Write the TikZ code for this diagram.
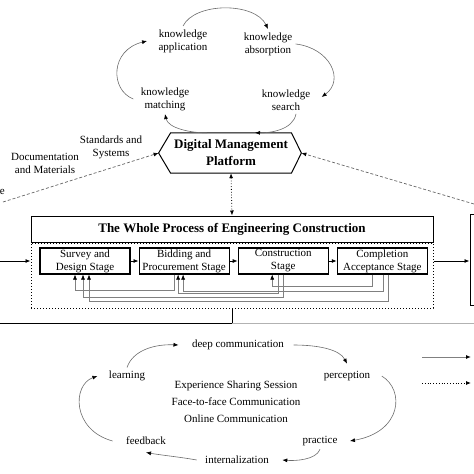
\documentclass[tikz,border=0pt]{standalone}
\usepackage{fontspec}
\setmainfont{Liberation Serif}
\usetikzlibrary{positioning}
\usetikzlibrary{arrows.meta}

\begin{document}
\begin{tikzpicture}[x=1pt,y=-1pt,>={Latex[length=5pt,width=4pt,color=black]},
    font=\fontsize{11}{13}\selectfont,node distance=8pt,
    cyc/.style={draw=gray!85!black,line width=0.6pt,->},
    fb/.style={draw=gray,line width=0.6pt,->},
    stage/.style={draw,line width=1.1pt,minimum width=90pt,minimum height=26pt,inner sep=1pt,align=center},
    heading/.style={font=\fontsize{13}{17}\selectfont\bfseries,align=center},
    dashline/.style={draw=gray!80!black,line width=0.7pt,dash pattern=on 3pt off 2pt,->}]
  \useasboundingbox (0,0) rectangle (474,474);

  % knowledge cycle
  \node (apply)  at (183,41)  [align=center] {knowledge\\application};
  \node (absorb) at (268,44)  [align=center] {knowledge\\absorption};
  \node (match)  at (165,99)  [align=center] {knowledge\\matching};
  \node (search) at (286,100) [align=center] {knowledge\\search};

  % platform
  \node (plat) at (231,153) [heading,minimum width=120pt,minimum height=40pt] {Digital Management\\Platform};
  \coordinate (platL) at ([xshift=-12pt]plat.west);
  \coordinate (platR) at ([xshift=10pt]plat.east);
  \draw[line width=1pt] (plat.north west) -- (plat.north east) -- (platR)
    -- (plat.south east) -- (plat.south west) -- (platL) -- cycle;

  \draw[cyc] (apply.north) .. controls (195,2) and (255,2) .. (absorb.north);
  \draw[cyc] (absorb.east) .. controls (330,48) and (345,80) .. ([xshift=8pt,yshift=3pt]search.east);
  \draw[cyc] ([xshift=10pt]search.south) .. controls (293,130) and (270,133) .. ([xshift=24pt]plat.north);
  \draw[cyc] ([xshift=-24pt]plat.north) .. controls (190,133) and (168,128) .. (match.south);
  \draw[cyc] ([xshift=-4pt]match.west) .. controls (110,90) and (110,50) .. ([xshift=-8pt]apply.west);

  % inputs to the platform
  \node (std) at (111,147) [align=center] {Standards and\\Systems};
  \node (doc) at (45,163)  [align=center] {Documentation\\and Materials};
  \node (cut) at (5,192) [anchor=east,inner sep=0pt] {e};
  \coordinate (leftin)  at (3,202);
  \coordinate (rightin) at (474,204);
  \draw[dashline] (leftin) -- (platL);
  \draw[dashline] (rightin) -- (platR);

  % whole process
  \node (title) at (232,229) [heading,draw,line width=1pt,minimum width=402pt,minimum height=26pt]
    {The Whole Process of Engineering Construction};
  \node (body) [below=0pt of title,draw,dotted,line width=1pt,minimum width=402pt,minimum height=65pt] {};
  \draw[dotted,line width=0.8pt,<->] (plat.south) -- (title.north);

  \node (survey) at (85,261) [stage] {Survey and\\Design Stage};
  \node (bid)    [stage,right=of survey] {Bidding and\\Procurement Stage};
  \node (constr) [stage,right=of bid]    {Construction\\Stage};
  \node (compl)  [stage,right=of constr] {Completion\\Acceptance Stage};

  \path[->,line width=0.8pt]
    (survey) edge (bid)
    (bid) edge (constr)
    (constr) edge (compl);

  % feedback between stages
  \draw[fb] ([xshift=-10pt]bid.south) -- ++(0,16) -| ([xshift=-10pt]survey.south);
  \draw[fb] ([xshift=-5pt]constr.south) -- ++(0,19) -| ([xshift=-6pt]bid.south);
  \draw[fb] (constr.south) -- ++(0,23) -| ([xshift=-2pt]survey.south);
  \draw[fb] ([xshift=-10pt]compl.south) -- ++(0,12) -| ([xshift=-11pt]constr.south);
  \draw[fb] ([xshift=1pt]compl.south) -- ++(0,17) -| ([xshift=-1pt]bid.south);
  \draw[fb] ([xshift=6pt]compl.south) -- ++(0,27) -| ([xshift=4pt]survey.south);

  % links left and right
  \coordinate (west) at (0,261);
  \node (nextbox) at (480,260) [draw,line width=1pt,minimum width=20pt,minimum height=91pt] {};
  \draw[->,line width=0.8pt] (west) -- (west -| body.west);
  \draw[->,line width=0.8pt] (body.east |- compl.east) -- (nextbox.west |- compl.east);

  \coordinate (base)  at (232,323);
  \coordinate (baseL) at (0,323);
  \coordinate (baseR) at (474,323);
  \draw[line width=0.8pt] (body.south) -- (base);
  \draw[line width=1pt] (baseL) -- (base);
  \draw[gray!60,line width=1pt] (base) -- (baseR);

  % communication cycle
  \node (deep)   at (238,345) {deep communication};
  \node (perc)   at (347,376) {perception};
  \node (prac)   at (320,441) {practice};
  \node (intern) at (237,460) {internalization};
  \node (feed)   at (146,441) {feedback};
  \node (learn)  at (127,376) {learning};
  \node (share)  at (236,402) [align=center,font=\fontsize{11}{17}\selectfont]
    {Experience Sharing Session\\Face-to-face Communication\\Online Communication};

  \draw[cyc] (learn.north) .. controls (133,350) and (155,344) .. ([xshift=-10pt]deep.west);
  \draw[cyc] ([xshift=6pt]deep.east) .. controls (320,345) and (340,350) .. ([yshift=4pt]perc.north);
  \draw[cyc] ([xshift=8pt]perc.east) .. controls (405,390) and (402,432) .. ([xshift=9pt]prac.east);
  \draw[cyc] (prac.south) .. controls (316,460) and (295,461) .. ([xshift=10pt]intern.east);
  \draw[cyc] ([xshift=-5pt]intern.west) .. controls (180,457) and (160,455) .. ([yshift=-4pt]feed.south);
  \draw[cyc] ([xshift=-10pt]feed.west) .. controls (72,430) and (72,385) .. ([xshift=-8pt]learn.west);

  % legend
  \coordinate (lgA) at (422,357);
  \coordinate (lgB) at (471,357);
  \coordinate (lgC) at (422,383);
  \coordinate (lgD) at (471,383);
  \draw[gray,line width=1pt,->] (lgA) -- (lgB);
  \draw[dotted,line width=0.8pt,->] (lgC) -- (lgD);
\end{tikzpicture}
\end{document}
